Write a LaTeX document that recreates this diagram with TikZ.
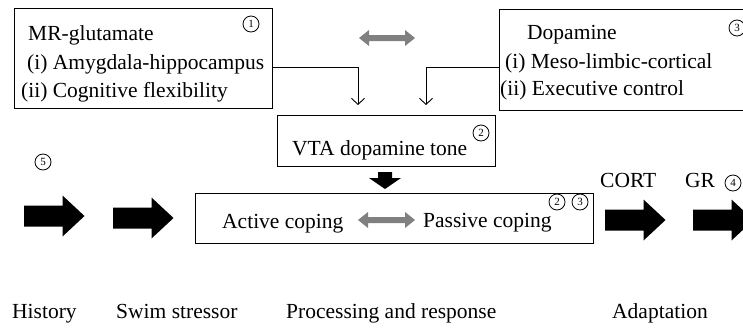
\documentclass[tikz,border=0pt]{standalone}
\usepackage{fontspec}
\setmainfont{Liberation Serif}
\usetikzlibrary{arrows.meta}
\newcommand\bigarr[2]{\fill[black] (#1,#2) ++(0,-10.5) -- ++(38.5,0) -- ++(0,-10) -- ++(22,20.5) -- ++(-22,20.5) -- ++(0,-10) -- ++(-38.5,0) -- cycle;}
\newcommand\grayarr[3]{\fill[arrgray] (#1,#2) -- ++(10,-8) -- ++(0,5) -- ++(#3,0) -- ++(0,-5) -- ++(10,8) -- ++(-10,8) -- ++(0,-5) -- ++(-#3,0) -- ++(0,5) -- cycle;}
\definecolor{arrgray}{RGB}{128,128,128}
\tikzset{
  box/.style={draw,line width=1pt,inner sep=0pt},
  txt/.style={anchor=base west,inner sep=0pt,font=\fontsize{21.5}{24}\selectfont},
  circnum/.style={circle,draw,line width=0.8pt,inner sep=0pt,minimum size=16pt,font=\fontsize{11}{11}\selectfont},
  conn/.style={line width=0.9pt,-{Straight Barb[length=6pt,width=13pt]}},
}
\begin{document}
\begin{tikzpicture}[x=1pt,y=-1pt]
\useasboundingbox (0,0) rectangle (743,327);
% boxes
\node[box,minimum width=258pt,minimum height=100pt] (b1) at (143,58) {};
\node[box,minimum width=246pt,minimum height=101pt] (b3) at (622,59.5) {};
\node[box,minimum width=218pt,minimum height=51pt] (vta) at (386,140.5) {};
\node[box,minimum width=398pt,minimum height=50pt] (cope) at (394,218) {};
% box 1 texts
\node[txt] (t1a) at (28,40) {MR-glutamate};
\node[txt] (t1b) at (27,69) {(i) Amygdala-hippocampus};
\node[txt] (t1c) at (21,97) {(ii) Cognitive flexibility};
\node[circnum] (c1) at (251,24) {1};
% box 3 texts
\node[txt] (t3a) at (527,39) {Dopamine};
\node[txt] (t3b) at (505,68) {(i) Meso-limbic-cortical};
\node[txt] (t3c) at (500,95) {(ii) Executive control};
\node[circnum] (c3) at (737,28) {3};
% vta
\node[txt] (tv) at (292,155) {VTA dopamine tone};
\node[circnum] (c2a) at (481,133) {2};
% coping
\node[txt] (tac) at (222,228) {Active coping};
\node[txt] (tpc) at (423,227) {Passive coping};
\node[circnum] (c2b) at (557,202) {2};
\node[circnum] (c3b) at (580,202) {3};
% gray double arrows
\grayarr{359}{38}{36}
\grayarr{358}{220}{37}
% down arrow
\fill[black] (378,172) -- (392,172) -- (392,178) -- (401,178) -- (385,189) -- (369,178) -- (378,178) -- cycle;
% connectors
\coordinate (e1) at (358,105);
\coordinate (e2) at (426,105);
\draw[conn] ([yshift=-9pt]b1.east) -| (e1);
\draw[conn] ([yshift=-7.5pt]b3.west) -| (e2);
% big arrows
\bigarr{24}{216}
\bigarr{113}{218}
\bigarr{605}{220}
\bigarr{693}{220}
\node[circnum] (c5) at (43,162) {5};
\node[txt] (cort) at (600,187) {CORT};
\node[txt] (gr) at (685,187) {GR};
\node[circnum] (c4) at (733,183) {4};
% bottom labels
\node[txt] (l1) at (12,318) {History};
\node[txt] (l2) at (116,318) {Swim stressor};
\node[txt] (l3) at (286,318) {Processing and response};
\node[txt] (l4) at (612,318) {Adaptation};
\end{tikzpicture}
\end{document}
